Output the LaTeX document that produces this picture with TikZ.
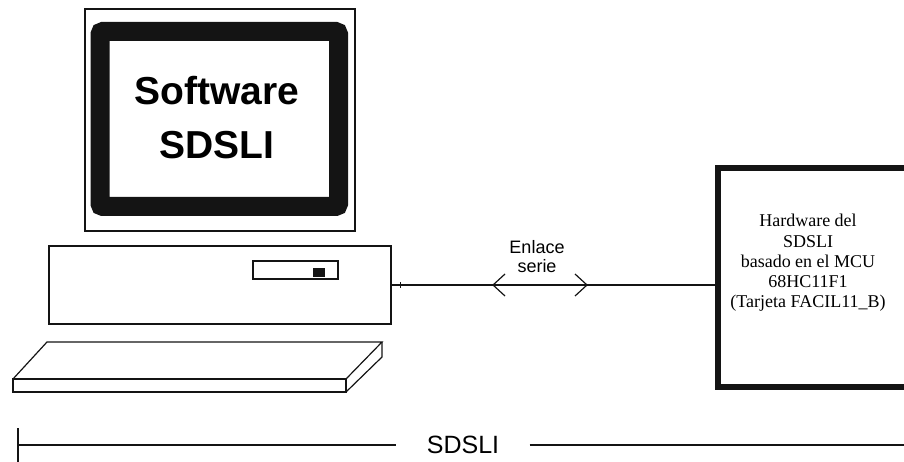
\documentclass[tikz,border=0pt]{standalone}
\usepackage{fontspec}
\setmainfont{Liberation Serif}
\setsansfont{Liberation Sans}
\usepackage{xcolor}
\usepackage{tikz}
\usetikzlibrary{positioning, calc}
\definecolor{SDInk}{RGB}{20, 20, 20}

\begin{document}
\begin{tikzpicture}[x=1pt, y=-1pt, line width=1.2pt, draw=SDInk,
    thinbox/.style={draw=SDInk, rectangle, inner sep=0pt},
    sanslabel/.style={font=\sffamily\fontsize{18}{19}\selectfont, align=center, inner sep=0pt}]
    \path[use as bounding box] (0,0) rectangle (904,462);
    % monitor
    \node[thinbox, minimum width=270pt, minimum height=222pt] (monitor) at (220,120) {};
    \draw[line width=19pt, rounded corners=3pt] (100,31.5) rectangle (338.5,206.5);
    \node[align=center, inner sep=0pt, font=\sffamily\bfseries\fontsize{39}{54}\selectfont] (swtext) at (217,118) {Software\\SDSLI};
    % computer case and drive slot
    \node[thinbox, minimum width=342pt, minimum height=78pt] (pc) at (220,285) {};
    \node[thinbox, minimum width=85pt, minimum height=18pt] (slot) at (295.5,270) {};
    \node[fill=SDInk, minimum width=12pt, minimum height=9pt, inner sep=0pt] (led) at (319,272.5) {};
    % keyboard
    \draw (13,379) rectangle (346,392);
    \draw (13,379) -- (47,342) -- (382,342) -- (346,379);
    \draw (382,342) -- (382,357) -- (346,392);
    % hardware board
    \node[draw=SDInk, line width=6.5pt, minimum width=240pt, minimum height=219pt, inner sep=0pt] (hw) at (838,277.5) {};
    \node[align=center, inner sep=0pt, font=\fontsize{18}{20.3}\selectfont] (hwtext) at (808,263)
      {Hardware del\\SDSLI\\basado en el MCU\\68HC11F1\\(Tarjeta FACIL11\_B)};
    % serial link
    \draw (pc.east) -- (pc.east -| hw.west);
    \draw ($(pc.east)+(9,-3)$) -- ($(pc.east)+(9,3)$);
    \coordinate (lt) at (493,285);
    \coordinate (rt) at (587,285);
    \draw ($(lt)+(12,-11)$) -- (lt) -- ($(lt)+(12,11)$);
    \draw ($(rt)+(-12,-11)$) -- (rt) -- ($(rt)+(-12,11)$);
    \node[sanslabel] (link) at (537,257) {Enlace\\serie};
    % system span
    \coordinate (spanl) at (18,445);
    \coordinate (spanr) at (906,445);
    \node[sanslabel, font=\sffamily\fontsize{25}{25}\selectfont, minimum width=132pt] (span) at (463,445) {SDSLI};
    \draw (18,428) -- (18,462);
    \draw (spanl) -- (span.west);
    \draw (span.east) -- (spanr);
\end{tikzpicture}
\end{document}
